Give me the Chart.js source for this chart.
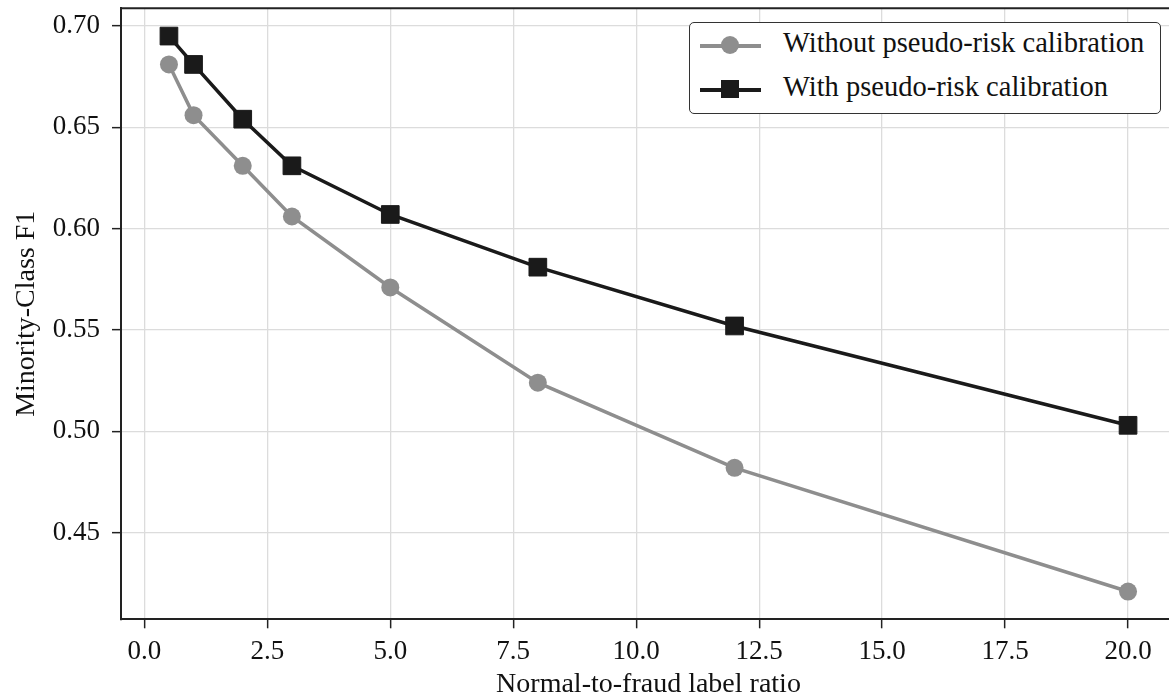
<!DOCTYPE html>
<html>
<head>
<meta charset="utf-8">
<script src="https://cdn.jsdelivr.net/npm/chart.js@4/dist/chart.umd.min.js"></script>
<style>
    html, body { margin: 0; padding: 0; background: #fff; overflow: hidden; }
    #wrap { position: relative; width: 1177px; height: 700px; }
    #legend {
        position: absolute; left: 689px; top: 22px; width: 470px; height: 90px;
        border: 1.5px solid #333; border-radius: 5px; background: #fff;
        font-family: "Liberation Serif", "Times New Roman", serif; font-size: 28.5px; color: #111;
    }
    .row { position: absolute; left: 0; height: 40px; width: 100%; }
    .row .line { position: absolute; left: 10px; width: 61px; top: 19px; height: 3.5px; }
    .row .mark { position: absolute; }
    .row .txt { position: absolute; left: 93px; top: 2px; white-space: nowrap; }
</style>
</head>
<body>
<div id="wrap">
    <canvas id="chart" width="1177" height="700"></canvas>
    <div id="legend"></div>
</div>
<script>
const ratios = [0.5, 1, 2, 3, 5, 8, 12, 20];
const withoutCalibration = [0.681, 0.656, 0.631, 0.606, 0.571, 0.524, 0.482, 0.421];
const withCalibration = [0.695, 0.681, 0.654, 0.631, 0.607, 0.581, 0.552, 0.503];

const seriesNames = ['Without pseudo-risk calibration', 'With pseudo-risk calibration'];
const gray = '#8e8e8e';
const dark = '#1a1a1a';
const fontFamily = '"Liberation Serif", "Times New Roman", serif';

function toPoints(values) {
    return ratios.map((r, i) => ({ x: r, y: values[i] }));
}

// matplotlib-like frame on top (bottom/left come from the axes)
const topFrame = {
    id: 'topFrame',
    afterDraw(chart) {
        const { ctx, chartArea } = chart;
        ctx.save();
        ctx.strokeStyle = '#222';
        ctx.lineWidth = 2;
        ctx.beginPath();
        ctx.moveTo(chartArea.left, chartArea.top);
        ctx.lineTo(chartArea.right, chartArea.top);
        ctx.stroke();
        ctx.restore();
    }
};

// no extra room for edge labels, the plot box is fixed like in matplotlib
function fixBox(s, size) {
    if (s.isHorizontal()) {
        s.height = size;
    } else {
        s.width = size;
    }
    s.paddingTop = 0;
    s.paddingBottom = 0;
    s.paddingLeft = 0;
    s.paddingRight = 0;
}

function main() {
    new Chart('chart', {
        type: 'line',
        data: {
            datasets: [{
                label: seriesNames[0],
                data: toPoints(withoutCalibration),
                borderColor: gray,
                backgroundColor: gray,
                borderWidth: 3.5,
                pointStyle: 'circle',
                pointRadius: 9,
                pointBorderWidth: 0,
                tension: 0
            }, {
                label: seriesNames[1],
                data: toPoints(withCalibration),
                borderColor: dark,
                backgroundColor: dark,
                borderWidth: 3.5,
                pointStyle: 'rect',
                pointRadius: 12.5,
                pointBorderWidth: 1,
                tension: 0
            }]
        },
        options: {
            responsive: false,
            animation: false,
            layout: { autoPadding: false, padding: { top: 8.3, right: 1, left: 0, bottom: 0 } },
            plugins: { legend: { display: false }, tooltip: { enabled: false } },
            scales: {
                x: {
                    type: 'linear',
                    min: -0.475,
                    max: 20.975,
                    afterFit: (s) => fixBox(s, 80.7),
                    ticks: {
                        stepSize: 2.5,
                        includeBounds: false,
                        color: '#111',
                        padding: 7,
                        font: { family: fontFamily, size: 27 },
                        callback: (v) => v.toFixed(1)
                    },
                    grid: { color: '#dcdcdc', lineWidth: 1.3, tickColor: '#222', tickLength: 9, tickWidth: 1.5 },
                    border: { color: '#222', width: 2 },
                    title: {
                        display: true,
                        text: 'Normal-to-fraud label ratio',
                        color: '#111',
                        font: { family: fontFamily, size: 28, lineHeight: 1 },
                        padding: { top: 0, bottom: 1 }
                    }
                },
                y: {
                    min: 0.4073,
                    max: 0.7087,
                    afterFit: (s) => fixBox(s, 121),
                    ticks: {
                        stepSize: 0.05,
                        includeBounds: false,
                        color: '#111',
                        padding: 12,
                        font: { family: fontFamily, size: 27 },
                        callback: (v) => v.toFixed(2)
                    },
                    grid: { color: '#dcdcdc', lineWidth: 1.3, tickColor: '#222', tickLength: 9, tickWidth: 1.5 },
                    border: { color: '#222', width: 2 },
                    title: {
                        display: true,
                        text: 'Minority-Class F1',
                        color: '#111',
                        font: { family: fontFamily, size: 28, lineHeight: 1 },
                        padding: { top: 13, bottom: 0 }
                    }
                }
            }
        },
        plugins: [topFrame]
    });

    // legend drawn as html, line sample + marker + label
    const legend = document.getElementById('legend');
    const styles = [
        { color: gray, mark: 'width:18px;height:18px;border-radius:50%;left:31px;top:11px;' },
        { color: dark, mark: 'width:18px;height:18px;left:31px;top:11px;' }
    ];
    seriesNames.forEach((name, i) => {
        const row = document.createElement('div');
        row.className = 'row';
        row.style.top = (2 + i * 44) + 'px';
        row.innerHTML =
            '<div class="line" style="background:' + styles[i].color + '"></div>' +
            '<div class="mark" style="background:' + styles[i].color + ';' + styles[i].mark + '"></div>' +
            '<div class="txt">' + name + '</div>';
        legend.appendChild(row);
    });
}

window.onload = main;
</script>
</body>
</html>
